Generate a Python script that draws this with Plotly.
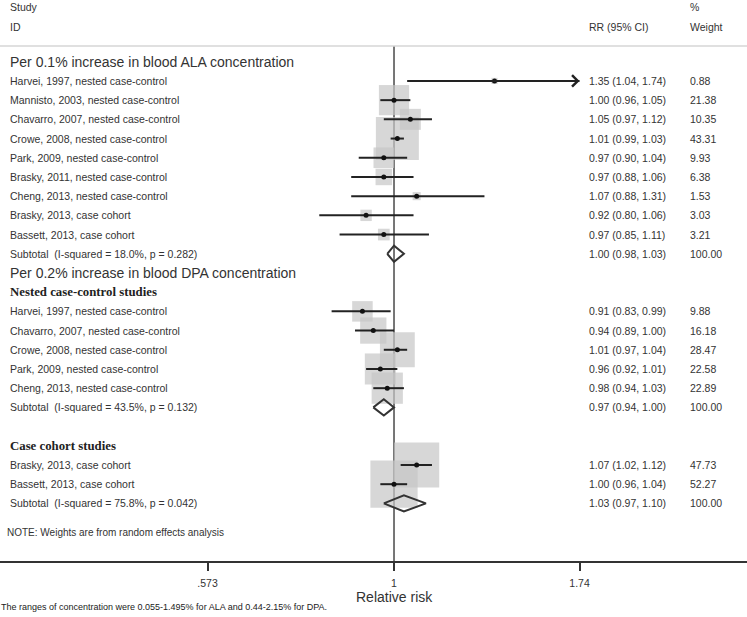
import numpy as np
import plotly.graph_objects as go

# ---------------- data ----------------
ala_labels = ["Harvei, 1997, nested case-control", "Mannisto, 2003, nested case-control",
              "Chavarro, 2007, nested case-control", "Crowe, 2008, nested case-control",
              "Park, 2009, nested case-control", "Brasky, 2011, nested case-control",
              "Cheng, 2013, nested case-control", "Brasky, 2013, case cohort",
              "Bassett, 2013, case cohort"]
ala_rr = [1.35, 1.00, 1.05, 1.01, 0.97, 0.97, 1.07, 0.92, 0.97]
ala_lo = [1.04, 0.96, 0.97, 0.99, 0.90, 0.88, 0.88, 0.80, 0.85]
ala_hi = [1.74, 1.05, 1.12, 1.03, 1.04, 1.06, 1.31, 1.06, 1.11]
ala_w = [0.88, 21.38, 10.35, 43.31, 9.93, 6.38, 1.53, 3.03, 3.21]
ala_sub = dict(label="Subtotal  (I-squared = 18.0%, p = 0.282)", rr=1.00, lo=0.98, hi=1.03, w=100.00)

ncc_labels = ["Harvei, 1997, nested case-control", "Chavarro, 2007, nested case-control",
              "Crowe, 2008, nested case-control", "Park, 2009, nested case-control",
              "Cheng, 2013, nested case-control"]
ncc_rr = [0.91, 0.94, 1.01, 0.96, 0.98]
ncc_lo = [0.83, 0.89, 0.97, 0.92, 0.94]
ncc_hi = [0.99, 1.00, 1.04, 1.01, 1.03]
ncc_w = [9.88, 16.18, 28.47, 22.58, 22.89]
ncc_sub = dict(label="Subtotal  (I-squared = 43.5%, p = 0.132)", rr=0.97, lo=0.94, hi=1.00, w=100.00)

cc_labels = ["Brasky, 2013, case cohort", "Bassett, 2013, case cohort"]
cc_rr = [1.07, 1.00]
cc_lo = [1.02, 0.96]
cc_hi = [1.12, 1.04]
cc_w = [47.73, 52.27]
cc_sub = dict(label="Subtotal  (I-squared = 75.8%, p = 0.042)", rr=1.03, lo=0.97, hi=1.10, w=100.00)

tick_vals = [0.573, 1, 1.74]
tick_text = [".573", "1", "1.74"]

header_ala = "Per 0.1% increase in blood ALA concentration"
header_dpa = "Per 0.2% increase in blood DPA concentration"
sub_ncc = "Nested case-control studies"
sub_cc = "Case cohort studies"
note = "NOTE: Weights are from random effects analysis"
footnote = "The ranges of concentration were 0.055-1.495% for ALA and 0.44-2.15% for DPA."

# ---------------- layout of rows ----------------
rows = []  # (kind, row_index, payload)
r = 0
rows.append(("head", r, header_ala)); r += 1
for i in range(len(ala_labels)):
    rows.append(("study", r, (ala_labels[i], ala_rr[i], ala_lo[i], ala_hi[i], ala_w[i]))); r += 1
rows.append(("sub", r, ala_sub)); r += 1
rows.append(("head", r, header_dpa)); r += 1
rows.append(("subhead", r, sub_ncc)); r += 1
for i in range(len(ncc_labels)):
    rows.append(("study", r, (ncc_labels[i], ncc_rr[i], ncc_lo[i], ncc_hi[i], ncc_w[i]))); r += 1
rows.append(("sub", r, ncc_sub)); r += 2
rows.append(("subhead", r, sub_cc)); r += 1
for i in range(len(cc_labels)):
    rows.append(("study", r, (cc_labels[i], cc_rr[i], cc_lo[i], cc_hi[i], cc_w[i]))); r += 1
rows.append(("sub", r, cc_sub)); r += 1
note_row = r + 0.5
y_bottom = r + 2
y_top = -0.82

W, H = 747, 617
ML, MR, MT, MB = 0, 0, 46, 56
plot_h = H - MT - MB

def px_y(p):
    return (H - MB - p) / plot_h

TXT = "#333333"
SANS = "Liberation Sans, Arial, sans-serif"
SERIF = "Liberation Serif, Times New Roman, serif"
x_min_ln, x_max_ln = -1.1765, 1.054
x_range = [x_min_ln / np.log(10), x_max_ln / np.log(10)]
x_max_tick = max(tick_vals)
LX = 8 / W      # left text column
RX = 587 / W    # RR column
WX = 688 / W    # weight column

fig = go.Figure()

# null line
fig.add_trace(go.Scatter(x=[1, 1], y=[y_top, y_bottom], mode="lines",
                         line=dict(color="#555555", width=1.6), hoverinfo="skip", showlegend=False))

bx, by, bs = [], [], []
cx, cy = [], []
dx, dy = [], []
diamonds = []
annotations = []
row_font = dict(family=SANS, size=10.5, color=TXT)
for kind, ri, p in rows:
    if kind == "study":
        lab, rr, lo, hi, w = p
        bx.append(rr); by.append(ri); bs.append(6.53 * np.sqrt(w))
        cx += [lo, hi, None]; cy += [ri, ri, None]
        dx.append(rr); dy.append(ri)
        annotations.append(dict(x=LX, xref="paper", y=ri, yref="y", text=lab, showarrow=False,
                                xanchor="left", yanchor="middle", font=row_font))
        annotations.append(dict(x=RX, xref="paper", y=ri, yref="y",
                                text=f"{rr:.2f} ({lo:.2f}, {hi:.2f})", showarrow=False,
                                xanchor="left", yanchor="middle", font=row_font))
        annotations.append(dict(x=WX, xref="paper", y=ri, yref="y", text=f"{w:.2f}", showarrow=False,
                                xanchor="left", yanchor="middle", font=row_font))
        if hi >= x_max_tick:
            annotations.append(dict(x=np.log10(x_max_tick), y=ri, xref="x", yref="y",
                                    ax=np.log10(lo), ay=ri, axref="x", ayref="y", text="",
                                    showarrow=True, arrowhead=4, arrowsize=1.1, arrowwidth=2,
                                    arrowcolor="#222222"))
    elif kind == "sub":
        diamonds.append((ri, p))
        annotations.append(dict(x=LX, xref="paper", y=ri, yref="y", text=p["label"], showarrow=False,
                                xanchor="left", yanchor="middle", font=row_font))
        annotations.append(dict(x=RX, xref="paper", y=ri, yref="y",
                                text=f"{p['rr']:.2f} ({p['lo']:.2f}, {p['hi']:.2f})", showarrow=False,
                                xanchor="left", yanchor="middle", font=row_font))
        annotations.append(dict(x=WX, xref="paper", y=ri, yref="y", text=f"{p['w']:.2f}", showarrow=False,
                                xanchor="left", yanchor="middle", font=row_font))
    elif kind == "head":
        annotations.append(dict(x=LX, xref="paper", y=ri, yref="y", text=p, showarrow=False,
                                xanchor="left", yanchor="middle", font=dict(family=SANS, size=14, color=TXT)))
    elif kind == "subhead":
        annotations.append(dict(x=LX, xref="paper", y=ri, yref="y", text=f"<b>{p}</b>", showarrow=False,
                                xanchor="left", yanchor="middle", font=dict(family=SERIF, size=12.8, color="#222222")))

# boxes, then CI lines, then point estimates, then diamonds on top
fig.add_trace(go.Scatter(x=bx, y=by, mode="markers",
                         marker=dict(symbol="square", size=bs, color="#c6c6c6", line=dict(width=0)),
                         hoverinfo="skip", showlegend=False))
fig.add_trace(go.Scatter(x=cx, y=cy, mode="lines", line=dict(color="#222222", width=2),
                         hoverinfo="skip", showlegend=False))
fig.add_trace(go.Scatter(x=dx, y=dy, mode="markers", marker=dict(symbol="circle", size=5, color="#111111"),
                         hoverinfo="skip", showlegend=False))
h = 0.42
for ri, p in diamonds:
    fig.add_trace(go.Scatter(x=[p["lo"], p["rr"], p["hi"], p["rr"], p["lo"]],
                             y=[ri, ri - h, ri, ri + h, ri], mode="lines",
                             line=dict(color="#333333", width=2), hoverinfo="skip", showlegend=False))

# column headers and notes
annotations += [
    dict(x=LX, xref="paper", y=px_y(7), yref="paper", text="Study", showarrow=False, xanchor="left", yanchor="middle", font=row_font),
    dict(x=LX, xref="paper", y=px_y(27), yref="paper", text="ID", showarrow=False, xanchor="left", yanchor="middle", font=row_font),
    dict(x=RX, xref="paper", y=px_y(27), yref="paper", text="RR (95% CI)", showarrow=False, xanchor="left", yanchor="middle", font=row_font),
    dict(x=WX, xref="paper", y=px_y(7), yref="paper", text="%", showarrow=False, xanchor="left", yanchor="middle", font=row_font),
    dict(x=WX, xref="paper", y=px_y(27), yref="paper", text="Weight", showarrow=False, xanchor="left", yanchor="middle", font=row_font),
    dict(x=5 / W, xref="paper", y=note_row, yref="y", text=note, showarrow=False, xanchor="left", yanchor="middle",
         font=dict(family=SANS, size=10, color=TXT)),
    dict(x=0, xref="x", y=px_y(597), yref="paper", text="Relative risk", showarrow=False, xanchor="center", yanchor="middle",
         font=dict(family=SANS, size=14, color=TXT)),
    dict(x=-1 / W, xref="paper", y=px_y(607), yref="paper", text=footnote, showarrow=False, xanchor="left", yanchor="middle",
         font=dict(family=SANS, size=9, color="#222222")),
]

fig.update_layout(
    width=W, height=H, margin=dict(l=ML, r=MR, t=MT, b=MB),
    paper_bgcolor="white", plot_bgcolor="white", showlegend=False,
    annotations=annotations,
    shapes=[dict(type="line", xref="paper", yref="paper", x0=0, x1=1, y0=1, y1=1,
                 line=dict(color="#d6d6d6", width=1.5))],
    xaxis=dict(type="log", range=x_range, showgrid=False, zeroline=False,
               showline=True, linecolor="#333333", linewidth=2,
               ticks="outside", ticklen=8, tickwidth=2, tickcolor="#333333",
               tickvals=tick_vals, ticktext=tick_text, ticklabelstandoff=3,
               tickfont=dict(family=SANS, size=10.5, color=TXT)),
    yaxis=dict(range=[y_bottom, y_top], visible=False, showgrid=False, zeroline=False),
)

fig.write_html("out.html", config={"displayModeBar": False},
               post_script="document.body.style.margin='0';document.body.style.overflow='hidden';")
